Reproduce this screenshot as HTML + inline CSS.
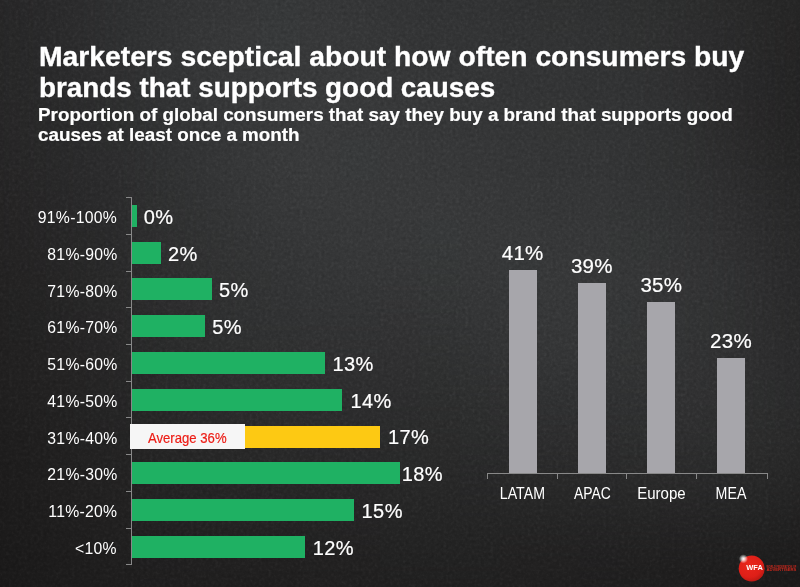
<!DOCTYPE html>
<html>
<head>
<meta charset="utf-8">
<title>Marketers sceptical about how often consumers buy brands that supports good causes</title>
<style>
html,body{margin:0;padding:0;}
body{width:800px;height:587px;overflow:hidden;position:relative;background:#2b2b2b;font-family:"Liberation Sans",sans-serif;color:#fff;}
#bg{position:absolute;left:0;top:0;width:800px;height:587px;}
.abs{position:absolute;white-space:nowrap;}
h1{position:absolute;left:38.5px;top:42.3px;margin:0;font-size:27px;line-height:31px;-webkit-text-stroke:0.35px #fff;font-weight:bold;color:#fff;white-space:nowrap;}
h2{position:absolute;left:37.5px;top:104.6px;margin:0;font-size:17.5px;line-height:20.5px;-webkit-text-stroke:0.2px #fff;transform:scaleX(1.076);transform-origin:0 0;font-weight:bold;color:#fff;white-space:nowrap;}
.cat{position:absolute;right:682.8px;font-size:16.5px;line-height:18px;letter-spacing:0.3px;margin-top:1.4px;transform:scaleX(0.955);transform-origin:100% 50%;color:#fff;white-space:nowrap;}
.hb{position:absolute;left:132px;height:22px;background:#1fb163;}
.hv{position:absolute;-webkit-text-stroke:0.2px #fff;font-size:20px;line-height:22px;margin-top:1px;color:#fff;white-space:nowrap;letter-spacing:0.4px;}
.vb{position:absolute;width:28px;margin-left:0.1px;background:#a7a6ab;}
.vv{position:absolute;-webkit-text-stroke:0.2px #fff;width:80px;text-align:center;font-size:20.5px;line-height:22px;color:#fff;letter-spacing:0.3px;margin-top:-0.6px;margin-left:0.2px;}
.vl{position:absolute;width:80px;text-align:center;font-size:17px;line-height:18px;margin-top:-0.3px;margin-left:0.3px;color:#fff;transform-origin:50% 50%;}
</style>
</head>
<body>
<svg id="bg" width="800" height="587" viewBox="0 0 800 587">
  <defs>
    <filter id="gblur" filterUnits="userSpaceOnUse" x="-60" y="-60" width="920" height="710" color-interpolation-filters="sRGB"><feGaussianBlur stdDeviation="17"/></filter>
    <filter id="noise" x="0" y="0" width="100%" height="100%" color-interpolation-filters="sRGB">
      <feTurbulence type="fractalNoise" baseFrequency="0.32" numOctaves="3" seed="7" result="t1"/>
      <feColorMatrix in="t1" type="matrix" values="0.12 0.12 0 0 0.38  0.12 0.12 0 0 0.38  0.12 0.12 0 0 0.38  0 0 0 0 1" result="n1"/>
      <feBlend in="n1" in2="SourceGraphic" mode="soft-light"/>
    </filter>
  </defs>
  <g filter="url(#noise)">
<rect x="-60" y="-60" width="920" height="710" fill="#2a2a2a"/>
<g filter="url(#gblur)">
<rect x="-60" y="-60" width="41" height="41" fill="rgb(39,38,39)"/>
<rect x="-20" y="-60" width="41" height="41" fill="rgb(39,38,39)"/>
<rect x="20" y="-60" width="41" height="41" fill="rgb(41,41,42)"/>
<rect x="60" y="-60" width="41" height="41" fill="rgb(44,44,45)"/>
<rect x="100" y="-60" width="41" height="41" fill="rgb(47,48,49)"/>
<rect x="140" y="-60" width="41" height="41" fill="rgb(50,51,52)"/>
<rect x="180" y="-60" width="41" height="41" fill="rgb(52,53,54)"/>
<rect x="220" y="-60" width="41" height="41" fill="rgb(54,55,56)"/>
<rect x="260" y="-60" width="41" height="41" fill="rgb(54,56,57)"/>
<rect x="300" y="-60" width="41" height="41" fill="rgb(54,55,56)"/>
<rect x="340" y="-60" width="41" height="41" fill="rgb(53,54,55)"/>
<rect x="380" y="-60" width="41" height="41" fill="rgb(51,52,53)"/>
<rect x="420" y="-60" width="41" height="41" fill="rgb(50,51,52)"/>
<rect x="460" y="-60" width="41" height="41" fill="rgb(50,51,52)"/>
<rect x="500" y="-60" width="41" height="41" fill="rgb(49,50,51)"/>
<rect x="540" y="-60" width="41" height="41" fill="rgb(49,50,50)"/>
<rect x="580" y="-60" width="41" height="41" fill="rgb(48,49,50)"/>
<rect x="620" y="-60" width="41" height="41" fill="rgb(47,48,48)"/>
<rect x="660" y="-60" width="41" height="41" fill="rgb(45,46,46)"/>
<rect x="700" y="-60" width="41" height="41" fill="rgb(43,43,43)"/>
<rect x="740" y="-60" width="41" height="41" fill="rgb(40,40,40)"/>
<rect x="780" y="-60" width="41" height="41" fill="rgb(37,37,37)"/>
<rect x="820" y="-60" width="41" height="41" fill="rgb(37,37,37)"/>
<rect x="-60" y="-20" width="41" height="41" fill="rgb(39,38,39)"/>
<rect x="-20" y="-20" width="41" height="41" fill="rgb(39,38,39)"/>
<rect x="20" y="-20" width="41" height="41" fill="rgb(41,41,42)"/>
<rect x="60" y="-20" width="41" height="41" fill="rgb(44,44,45)"/>
<rect x="100" y="-20" width="41" height="41" fill="rgb(47,48,49)"/>
<rect x="140" y="-20" width="41" height="41" fill="rgb(50,51,52)"/>
<rect x="180" y="-20" width="41" height="41" fill="rgb(52,53,54)"/>
<rect x="220" y="-20" width="41" height="41" fill="rgb(54,55,56)"/>
<rect x="260" y="-20" width="41" height="41" fill="rgb(54,56,57)"/>
<rect x="300" y="-20" width="41" height="41" fill="rgb(54,55,56)"/>
<rect x="340" y="-20" width="41" height="41" fill="rgb(53,54,55)"/>
<rect x="380" y="-20" width="41" height="41" fill="rgb(51,52,53)"/>
<rect x="420" y="-20" width="41" height="41" fill="rgb(50,51,52)"/>
<rect x="460" y="-20" width="41" height="41" fill="rgb(50,51,52)"/>
<rect x="500" y="-20" width="41" height="41" fill="rgb(49,50,51)"/>
<rect x="540" y="-20" width="41" height="41" fill="rgb(49,50,50)"/>
<rect x="580" y="-20" width="41" height="41" fill="rgb(48,49,50)"/>
<rect x="620" y="-20" width="41" height="41" fill="rgb(47,48,48)"/>
<rect x="660" y="-20" width="41" height="41" fill="rgb(45,46,46)"/>
<rect x="700" y="-20" width="41" height="41" fill="rgb(43,43,43)"/>
<rect x="740" y="-20" width="41" height="41" fill="rgb(40,40,40)"/>
<rect x="780" y="-20" width="41" height="41" fill="rgb(37,37,37)"/>
<rect x="820" y="-20" width="41" height="41" fill="rgb(37,37,37)"/>
<rect x="-60" y="20" width="41" height="41" fill="rgb(39,39,39)"/>
<rect x="-20" y="20" width="41" height="41" fill="rgb(39,39,39)"/>
<rect x="20" y="20" width="41" height="41" fill="rgb(41,41,42)"/>
<rect x="60" y="20" width="41" height="41" fill="rgb(44,44,45)"/>
<rect x="100" y="20" width="41" height="41" fill="rgb(47,48,49)"/>
<rect x="140" y="20" width="41" height="41" fill="rgb(50,51,52)"/>
<rect x="180" y="20" width="41" height="41" fill="rgb(53,54,55)"/>
<rect x="220" y="20" width="41" height="41" fill="rgb(55,56,57)"/>
<rect x="260" y="20" width="41" height="41" fill="rgb(55,57,58)"/>
<rect x="300" y="20" width="41" height="41" fill="rgb(55,56,57)"/>
<rect x="340" y="20" width="41" height="41" fill="rgb(54,55,56)"/>
<rect x="380" y="20" width="41" height="41" fill="rgb(52,53,54)"/>
<rect x="420" y="20" width="41" height="41" fill="rgb(51,52,53)"/>
<rect x="460" y="20" width="41" height="41" fill="rgb(51,52,53)"/>
<rect x="500" y="20" width="41" height="41" fill="rgb(50,51,52)"/>
<rect x="540" y="20" width="41" height="41" fill="rgb(50,51,52)"/>
<rect x="580" y="20" width="41" height="41" fill="rgb(49,50,51)"/>
<rect x="620" y="20" width="41" height="41" fill="rgb(48,49,49)"/>
<rect x="660" y="20" width="41" height="41" fill="rgb(46,46,47)"/>
<rect x="700" y="20" width="41" height="41" fill="rgb(43,43,44)"/>
<rect x="740" y="20" width="41" height="41" fill="rgb(40,40,40)"/>
<rect x="780" y="20" width="41" height="41" fill="rgb(37,36,36)"/>
<rect x="820" y="20" width="41" height="41" fill="rgb(37,36,36)"/>
<rect x="-60" y="60" width="41" height="41" fill="rgb(39,39,39)"/>
<rect x="-20" y="60" width="41" height="41" fill="rgb(39,39,39)"/>
<rect x="20" y="60" width="41" height="41" fill="rgb(41,41,42)"/>
<rect x="60" y="60" width="41" height="41" fill="rgb(44,44,45)"/>
<rect x="100" y="60" width="41" height="41" fill="rgb(47,47,48)"/>
<rect x="140" y="60" width="41" height="41" fill="rgb(50,51,52)"/>
<rect x="180" y="60" width="41" height="41" fill="rgb(53,54,55)"/>
<rect x="220" y="60" width="41" height="41" fill="rgb(55,56,57)"/>
<rect x="260" y="60" width="41" height="41" fill="rgb(56,57,58)"/>
<rect x="300" y="60" width="41" height="41" fill="rgb(56,57,58)"/>
<rect x="340" y="60" width="41" height="41" fill="rgb(55,56,57)"/>
<rect x="380" y="60" width="41" height="41" fill="rgb(54,55,56)"/>
<rect x="420" y="60" width="41" height="41" fill="rgb(53,54,55)"/>
<rect x="460" y="60" width="41" height="41" fill="rgb(52,53,54)"/>
<rect x="500" y="60" width="41" height="41" fill="rgb(51,52,53)"/>
<rect x="540" y="60" width="41" height="41" fill="rgb(51,52,53)"/>
<rect x="580" y="60" width="41" height="41" fill="rgb(50,51,52)"/>
<rect x="620" y="60" width="41" height="41" fill="rgb(49,50,51)"/>
<rect x="660" y="60" width="41" height="41" fill="rgb(47,47,48)"/>
<rect x="700" y="60" width="41" height="41" fill="rgb(43,43,44)"/>
<rect x="740" y="60" width="41" height="41" fill="rgb(39,39,40)"/>
<rect x="780" y="60" width="41" height="41" fill="rgb(36,36,36)"/>
<rect x="820" y="60" width="41" height="41" fill="rgb(36,36,36)"/>
<rect x="-60" y="100" width="41" height="41" fill="rgb(39,38,39)"/>
<rect x="-20" y="100" width="41" height="41" fill="rgb(39,38,39)"/>
<rect x="20" y="100" width="41" height="41" fill="rgb(41,41,41)"/>
<rect x="60" y="100" width="41" height="41" fill="rgb(43,43,44)"/>
<rect x="100" y="100" width="41" height="41" fill="rgb(46,47,47)"/>
<rect x="140" y="100" width="41" height="41" fill="rgb(49,50,51)"/>
<rect x="180" y="100" width="41" height="41" fill="rgb(52,53,54)"/>
<rect x="220" y="100" width="41" height="41" fill="rgb(55,56,57)"/>
<rect x="260" y="100" width="41" height="41" fill="rgb(56,57,58)"/>
<rect x="300" y="100" width="41" height="41" fill="rgb(57,58,59)"/>
<rect x="340" y="100" width="41" height="41" fill="rgb(56,57,58)"/>
<rect x="380" y="100" width="41" height="41" fill="rgb(55,56,57)"/>
<rect x="420" y="100" width="41" height="41" fill="rgb(54,55,56)"/>
<rect x="460" y="100" width="41" height="41" fill="rgb(53,54,55)"/>
<rect x="500" y="100" width="41" height="41" fill="rgb(52,53,54)"/>
<rect x="540" y="100" width="41" height="41" fill="rgb(52,53,53)"/>
<rect x="580" y="100" width="41" height="41" fill="rgb(51,52,53)"/>
<rect x="620" y="100" width="41" height="41" fill="rgb(50,51,52)"/>
<rect x="660" y="100" width="41" height="41" fill="rgb(47,48,49)"/>
<rect x="700" y="100" width="41" height="41" fill="rgb(44,44,44)"/>
<rect x="740" y="100" width="41" height="41" fill="rgb(40,39,40)"/>
<rect x="780" y="100" width="41" height="41" fill="rgb(36,36,36)"/>
<rect x="820" y="100" width="41" height="41" fill="rgb(36,36,36)"/>
<rect x="-60" y="140" width="41" height="41" fill="rgb(38,37,38)"/>
<rect x="-20" y="140" width="41" height="41" fill="rgb(38,37,38)"/>
<rect x="20" y="140" width="41" height="41" fill="rgb(40,40,40)"/>
<rect x="60" y="140" width="41" height="41" fill="rgb(42,42,43)"/>
<rect x="100" y="140" width="41" height="41" fill="rgb(45,45,46)"/>
<rect x="140" y="140" width="41" height="41" fill="rgb(48,49,50)"/>
<rect x="180" y="140" width="41" height="41" fill="rgb(51,52,53)"/>
<rect x="220" y="140" width="41" height="41" fill="rgb(54,55,56)"/>
<rect x="260" y="140" width="41" height="41" fill="rgb(56,57,58)"/>
<rect x="300" y="140" width="41" height="41" fill="rgb(57,58,59)"/>
<rect x="340" y="140" width="41" height="41" fill="rgb(56,58,59)"/>
<rect x="380" y="140" width="41" height="41" fill="rgb(56,57,58)"/>
<rect x="420" y="140" width="41" height="41" fill="rgb(55,56,57)"/>
<rect x="460" y="140" width="41" height="41" fill="rgb(54,55,56)"/>
<rect x="500" y="140" width="41" height="41" fill="rgb(53,54,55)"/>
<rect x="540" y="140" width="41" height="41" fill="rgb(52,53,54)"/>
<rect x="580" y="140" width="41" height="41" fill="rgb(52,53,54)"/>
<rect x="620" y="140" width="41" height="41" fill="rgb(50,51,52)"/>
<rect x="660" y="140" width="41" height="41" fill="rgb(48,49,49)"/>
<rect x="700" y="140" width="41" height="41" fill="rgb(45,45,46)"/>
<rect x="740" y="140" width="41" height="41" fill="rgb(41,41,41)"/>
<rect x="780" y="140" width="41" height="41" fill="rgb(37,37,37)"/>
<rect x="820" y="140" width="41" height="41" fill="rgb(37,37,37)"/>
<rect x="-60" y="180" width="41" height="41" fill="rgb(37,36,36)"/>
<rect x="-20" y="180" width="41" height="41" fill="rgb(37,36,36)"/>
<rect x="20" y="180" width="41" height="41" fill="rgb(39,38,39)"/>
<rect x="60" y="180" width="41" height="41" fill="rgb(41,41,42)"/>
<rect x="100" y="180" width="41" height="41" fill="rgb(44,44,45)"/>
<rect x="140" y="180" width="41" height="41" fill="rgb(47,48,48)"/>
<rect x="180" y="180" width="41" height="41" fill="rgb(50,51,52)"/>
<rect x="220" y="180" width="41" height="41" fill="rgb(53,54,55)"/>
<rect x="260" y="180" width="41" height="41" fill="rgb(55,56,57)"/>
<rect x="300" y="180" width="41" height="41" fill="rgb(56,57,58)"/>
<rect x="340" y="180" width="41" height="41" fill="rgb(56,57,58)"/>
<rect x="380" y="180" width="41" height="41" fill="rgb(56,57,58)"/>
<rect x="420" y="180" width="41" height="41" fill="rgb(56,57,58)"/>
<rect x="460" y="180" width="41" height="41" fill="rgb(55,56,57)"/>
<rect x="500" y="180" width="41" height="41" fill="rgb(54,55,56)"/>
<rect x="540" y="180" width="41" height="41" fill="rgb(53,54,55)"/>
<rect x="580" y="180" width="41" height="41" fill="rgb(53,54,55)"/>
<rect x="620" y="180" width="41" height="41" fill="rgb(51,52,53)"/>
<rect x="660" y="180" width="41" height="41" fill="rgb(49,50,51)"/>
<rect x="700" y="180" width="41" height="41" fill="rgb(47,47,48)"/>
<rect x="740" y="180" width="41" height="41" fill="rgb(43,43,44)"/>
<rect x="780" y="180" width="41" height="41" fill="rgb(39,39,39)"/>
<rect x="820" y="180" width="41" height="41" fill="rgb(39,39,39)"/>
<rect x="-60" y="220" width="41" height="41" fill="rgb(36,35,35)"/>
<rect x="-20" y="220" width="41" height="41" fill="rgb(36,35,35)"/>
<rect x="20" y="220" width="41" height="41" fill="rgb(38,37,38)"/>
<rect x="60" y="220" width="41" height="41" fill="rgb(40,40,40)"/>
<rect x="100" y="220" width="41" height="41" fill="rgb(43,43,44)"/>
<rect x="140" y="220" width="41" height="41" fill="rgb(46,46,47)"/>
<rect x="180" y="220" width="41" height="41" fill="rgb(49,50,50)"/>
<rect x="220" y="220" width="41" height="41" fill="rgb(51,52,53)"/>
<rect x="260" y="220" width="41" height="41" fill="rgb(53,54,55)"/>
<rect x="300" y="220" width="41" height="41" fill="rgb(54,55,56)"/>
<rect x="340" y="220" width="41" height="41" fill="rgb(55,56,57)"/>
<rect x="380" y="220" width="41" height="41" fill="rgb(55,56,57)"/>
<rect x="420" y="220" width="41" height="41" fill="rgb(55,57,58)"/>
<rect x="460" y="220" width="41" height="41" fill="rgb(55,56,57)"/>
<rect x="500" y="220" width="41" height="41" fill="rgb(55,56,57)"/>
<rect x="540" y="220" width="41" height="41" fill="rgb(54,55,56)"/>
<rect x="580" y="220" width="41" height="41" fill="rgb(54,55,56)"/>
<rect x="620" y="220" width="41" height="41" fill="rgb(52,54,54)"/>
<rect x="660" y="220" width="41" height="41" fill="rgb(51,52,53)"/>
<rect x="700" y="220" width="41" height="41" fill="rgb(49,49,50)"/>
<rect x="740" y="220" width="41" height="41" fill="rgb(45,45,46)"/>
<rect x="780" y="220" width="41" height="41" fill="rgb(41,41,41)"/>
<rect x="820" y="220" width="41" height="41" fill="rgb(41,41,41)"/>
<rect x="-60" y="260" width="41" height="41" fill="rgb(35,34,34)"/>
<rect x="-20" y="260" width="41" height="41" fill="rgb(35,34,34)"/>
<rect x="20" y="260" width="41" height="41" fill="rgb(37,36,36)"/>
<rect x="60" y="260" width="41" height="41" fill="rgb(39,39,39)"/>
<rect x="100" y="260" width="41" height="41" fill="rgb(42,42,42)"/>
<rect x="140" y="260" width="41" height="41" fill="rgb(45,45,46)"/>
<rect x="180" y="260" width="41" height="41" fill="rgb(48,48,49)"/>
<rect x="220" y="260" width="41" height="41" fill="rgb(50,51,51)"/>
<rect x="260" y="260" width="41" height="41" fill="rgb(51,52,53)"/>
<rect x="300" y="260" width="41" height="41" fill="rgb(52,53,54)"/>
<rect x="340" y="260" width="41" height="41" fill="rgb(53,54,55)"/>
<rect x="380" y="260" width="41" height="41" fill="rgb(53,54,55)"/>
<rect x="420" y="260" width="41" height="41" fill="rgb(53,55,55)"/>
<rect x="460" y="260" width="41" height="41" fill="rgb(54,55,56)"/>
<rect x="500" y="260" width="41" height="41" fill="rgb(54,56,57)"/>
<rect x="540" y="260" width="41" height="41" fill="rgb(55,56,57)"/>
<rect x="580" y="260" width="41" height="41" fill="rgb(54,55,56)"/>
<rect x="620" y="260" width="41" height="41" fill="rgb(53,54,55)"/>
<rect x="660" y="260" width="41" height="41" fill="rgb(52,52,53)"/>
<rect x="700" y="260" width="41" height="41" fill="rgb(49,50,51)"/>
<rect x="740" y="260" width="41" height="41" fill="rgb(46,46,47)"/>
<rect x="780" y="260" width="41" height="41" fill="rgb(41,41,42)"/>
<rect x="820" y="260" width="41" height="41" fill="rgb(41,41,42)"/>
<rect x="-60" y="300" width="41" height="41" fill="rgb(34,33,33)"/>
<rect x="-20" y="300" width="41" height="41" fill="rgb(34,33,33)"/>
<rect x="20" y="300" width="41" height="41" fill="rgb(35,35,35)"/>
<rect x="60" y="300" width="41" height="41" fill="rgb(38,37,38)"/>
<rect x="100" y="300" width="41" height="41" fill="rgb(41,40,41)"/>
<rect x="140" y="300" width="41" height="41" fill="rgb(43,44,44)"/>
<rect x="180" y="300" width="41" height="41" fill="rgb(46,47,47)"/>
<rect x="220" y="300" width="41" height="41" fill="rgb(48,49,50)"/>
<rect x="260" y="300" width="41" height="41" fill="rgb(49,50,51)"/>
<rect x="300" y="300" width="41" height="41" fill="rgb(50,51,52)"/>
<rect x="340" y="300" width="41" height="41" fill="rgb(50,51,52)"/>
<rect x="380" y="300" width="41" height="41" fill="rgb(51,51,52)"/>
<rect x="420" y="300" width="41" height="41" fill="rgb(51,52,53)"/>
<rect x="460" y="300" width="41" height="41" fill="rgb(52,53,54)"/>
<rect x="500" y="300" width="41" height="41" fill="rgb(53,54,55)"/>
<rect x="540" y="300" width="41" height="41" fill="rgb(54,55,56)"/>
<rect x="580" y="300" width="41" height="41" fill="rgb(53,55,56)"/>
<rect x="620" y="300" width="41" height="41" fill="rgb(52,53,54)"/>
<rect x="660" y="300" width="41" height="41" fill="rgb(51,52,53)"/>
<rect x="700" y="300" width="41" height="41" fill="rgb(49,50,50)"/>
<rect x="740" y="300" width="41" height="41" fill="rgb(46,46,47)"/>
<rect x="780" y="300" width="41" height="41" fill="rgb(42,42,42)"/>
<rect x="820" y="300" width="41" height="41" fill="rgb(42,42,42)"/>
<rect x="-60" y="340" width="41" height="41" fill="rgb(33,32,32)"/>
<rect x="-20" y="340" width="41" height="41" fill="rgb(33,32,32)"/>
<rect x="20" y="340" width="41" height="41" fill="rgb(35,34,34)"/>
<rect x="60" y="340" width="41" height="41" fill="rgb(37,36,36)"/>
<rect x="100" y="340" width="41" height="41" fill="rgb(39,39,39)"/>
<rect x="140" y="340" width="41" height="41" fill="rgb(42,42,42)"/>
<rect x="180" y="340" width="41" height="41" fill="rgb(44,45,45)"/>
<rect x="220" y="340" width="41" height="41" fill="rgb(46,47,47)"/>
<rect x="260" y="340" width="41" height="41" fill="rgb(47,48,48)"/>
<rect x="300" y="340" width="41" height="41" fill="rgb(48,48,49)"/>
<rect x="340" y="340" width="41" height="41" fill="rgb(48,48,49)"/>
<rect x="380" y="340" width="41" height="41" fill="rgb(48,48,49)"/>
<rect x="420" y="340" width="41" height="41" fill="rgb(48,49,49)"/>
<rect x="460" y="340" width="41" height="41" fill="rgb(49,50,51)"/>
<rect x="500" y="340" width="41" height="41" fill="rgb(51,52,53)"/>
<rect x="540" y="340" width="41" height="41" fill="rgb(52,53,54)"/>
<rect x="580" y="340" width="41" height="41" fill="rgb(51,52,53)"/>
<rect x="620" y="340" width="41" height="41" fill="rgb(51,52,52)"/>
<rect x="660" y="340" width="41" height="41" fill="rgb(50,51,52)"/>
<rect x="700" y="340" width="41" height="41" fill="rgb(49,49,50)"/>
<rect x="740" y="340" width="41" height="41" fill="rgb(46,46,47)"/>
<rect x="780" y="340" width="41" height="41" fill="rgb(42,42,43)"/>
<rect x="820" y="340" width="41" height="41" fill="rgb(42,42,43)"/>
<rect x="-60" y="380" width="41" height="41" fill="rgb(32,31,31)"/>
<rect x="-20" y="380" width="41" height="41" fill="rgb(32,31,31)"/>
<rect x="20" y="380" width="41" height="41" fill="rgb(34,33,33)"/>
<rect x="60" y="380" width="41" height="41" fill="rgb(36,35,35)"/>
<rect x="100" y="380" width="41" height="41" fill="rgb(38,37,38)"/>
<rect x="140" y="380" width="41" height="41" fill="rgb(40,40,40)"/>
<rect x="180" y="380" width="41" height="41" fill="rgb(42,42,43)"/>
<rect x="220" y="380" width="41" height="41" fill="rgb(44,44,45)"/>
<rect x="260" y="380" width="41" height="41" fill="rgb(45,45,45)"/>
<rect x="300" y="380" width="41" height="41" fill="rgb(45,45,46)"/>
<rect x="340" y="380" width="41" height="41" fill="rgb(45,45,46)"/>
<rect x="380" y="380" width="41" height="41" fill="rgb(45,45,46)"/>
<rect x="420" y="380" width="41" height="41" fill="rgb(45,46,46)"/>
<rect x="460" y="380" width="41" height="41" fill="rgb(46,47,47)"/>
<rect x="500" y="380" width="41" height="41" fill="rgb(48,48,49)"/>
<rect x="540" y="380" width="41" height="41" fill="rgb(48,49,50)"/>
<rect x="580" y="380" width="41" height="41" fill="rgb(48,49,50)"/>
<rect x="620" y="380" width="41" height="41" fill="rgb(48,49,50)"/>
<rect x="660" y="380" width="41" height="41" fill="rgb(49,49,50)"/>
<rect x="700" y="380" width="41" height="41" fill="rgb(48,48,49)"/>
<rect x="740" y="380" width="41" height="41" fill="rgb(45,46,46)"/>
<rect x="780" y="380" width="41" height="41" fill="rgb(42,42,43)"/>
<rect x="820" y="380" width="41" height="41" fill="rgb(42,42,43)"/>
<rect x="-60" y="420" width="41" height="41" fill="rgb(30,29,29)"/>
<rect x="-20" y="420" width="41" height="41" fill="rgb(30,29,29)"/>
<rect x="20" y="420" width="41" height="41" fill="rgb(32,31,31)"/>
<rect x="60" y="420" width="41" height="41" fill="rgb(34,34,34)"/>
<rect x="100" y="420" width="41" height="41" fill="rgb(36,36,36)"/>
<rect x="140" y="420" width="41" height="41" fill="rgb(38,38,38)"/>
<rect x="180" y="420" width="41" height="41" fill="rgb(40,40,40)"/>
<rect x="220" y="420" width="41" height="41" fill="rgb(41,41,41)"/>
<rect x="260" y="420" width="41" height="41" fill="rgb(42,42,42)"/>
<rect x="300" y="420" width="41" height="41" fill="rgb(42,42,43)"/>
<rect x="340" y="420" width="41" height="41" fill="rgb(42,42,43)"/>
<rect x="380" y="420" width="41" height="41" fill="rgb(42,43,43)"/>
<rect x="420" y="420" width="41" height="41" fill="rgb(43,43,43)"/>
<rect x="460" y="420" width="41" height="41" fill="rgb(43,44,44)"/>
<rect x="500" y="420" width="41" height="41" fill="rgb(44,44,45)"/>
<rect x="540" y="420" width="41" height="41" fill="rgb(45,45,46)"/>
<rect x="580" y="420" width="41" height="41" fill="rgb(45,45,46)"/>
<rect x="620" y="420" width="41" height="41" fill="rgb(45,46,46)"/>
<rect x="660" y="420" width="41" height="41" fill="rgb(46,46,47)"/>
<rect x="700" y="420" width="41" height="41" fill="rgb(45,46,46)"/>
<rect x="740" y="420" width="41" height="41" fill="rgb(44,44,44)"/>
<rect x="780" y="420" width="41" height="41" fill="rgb(41,41,41)"/>
<rect x="820" y="420" width="41" height="41" fill="rgb(41,41,41)"/>
<rect x="-60" y="460" width="41" height="41" fill="rgb(29,28,28)"/>
<rect x="-20" y="460" width="41" height="41" fill="rgb(29,28,28)"/>
<rect x="20" y="460" width="41" height="41" fill="rgb(31,30,30)"/>
<rect x="60" y="460" width="41" height="41" fill="rgb(33,32,32)"/>
<rect x="100" y="460" width="41" height="41" fill="rgb(35,34,34)"/>
<rect x="140" y="460" width="41" height="41" fill="rgb(36,36,36)"/>
<rect x="180" y="460" width="41" height="41" fill="rgb(37,37,37)"/>
<rect x="220" y="460" width="41" height="41" fill="rgb(38,38,38)"/>
<rect x="260" y="460" width="41" height="41" fill="rgb(39,39,39)"/>
<rect x="300" y="460" width="41" height="41" fill="rgb(39,39,39)"/>
<rect x="340" y="460" width="41" height="41" fill="rgb(40,39,40)"/>
<rect x="380" y="460" width="41" height="41" fill="rgb(40,40,40)"/>
<rect x="420" y="460" width="41" height="41" fill="rgb(40,40,40)"/>
<rect x="460" y="460" width="41" height="41" fill="rgb(40,40,41)"/>
<rect x="500" y="460" width="41" height="41" fill="rgb(41,41,41)"/>
<rect x="540" y="460" width="41" height="41" fill="rgb(41,41,41)"/>
<rect x="580" y="460" width="41" height="41" fill="rgb(41,41,42)"/>
<rect x="620" y="460" width="41" height="41" fill="rgb(42,42,42)"/>
<rect x="660" y="460" width="41" height="41" fill="rgb(42,42,42)"/>
<rect x="700" y="460" width="41" height="41" fill="rgb(41,41,42)"/>
<rect x="740" y="460" width="41" height="41" fill="rgb(40,40,40)"/>
<rect x="780" y="460" width="41" height="41" fill="rgb(38,38,38)"/>
<rect x="820" y="460" width="41" height="41" fill="rgb(38,38,38)"/>
<rect x="-60" y="500" width="41" height="41" fill="rgb(28,27,27)"/>
<rect x="-20" y="500" width="41" height="41" fill="rgb(28,27,27)"/>
<rect x="20" y="500" width="41" height="41" fill="rgb(30,29,29)"/>
<rect x="60" y="500" width="41" height="41" fill="rgb(32,31,31)"/>
<rect x="100" y="500" width="41" height="41" fill="rgb(33,32,32)"/>
<rect x="140" y="500" width="41" height="41" fill="rgb(34,34,34)"/>
<rect x="180" y="500" width="41" height="41" fill="rgb(35,34,35)"/>
<rect x="220" y="500" width="41" height="41" fill="rgb(36,35,35)"/>
<rect x="260" y="500" width="41" height="41" fill="rgb(36,35,36)"/>
<rect x="300" y="500" width="41" height="41" fill="rgb(36,36,36)"/>
<rect x="340" y="500" width="41" height="41" fill="rgb(37,36,37)"/>
<rect x="380" y="500" width="41" height="41" fill="rgb(37,37,37)"/>
<rect x="420" y="500" width="41" height="41" fill="rgb(37,37,37)"/>
<rect x="460" y="500" width="41" height="41" fill="rgb(37,37,37)"/>
<rect x="500" y="500" width="41" height="41" fill="rgb(37,37,37)"/>
<rect x="540" y="500" width="41" height="41" fill="rgb(37,37,37)"/>
<rect x="580" y="500" width="41" height="41" fill="rgb(37,37,37)"/>
<rect x="620" y="500" width="41" height="41" fill="rgb(37,37,37)"/>
<rect x="660" y="500" width="41" height="41" fill="rgb(37,36,37)"/>
<rect x="700" y="500" width="41" height="41" fill="rgb(36,36,36)"/>
<rect x="740" y="500" width="41" height="41" fill="rgb(35,35,35)"/>
<rect x="780" y="500" width="41" height="41" fill="rgb(34,33,33)"/>
<rect x="820" y="500" width="41" height="41" fill="rgb(34,33,33)"/>
<rect x="-60" y="540" width="41" height="41" fill="rgb(27,26,26)"/>
<rect x="-20" y="540" width="41" height="41" fill="rgb(27,26,26)"/>
<rect x="20" y="540" width="41" height="41" fill="rgb(28,27,27)"/>
<rect x="60" y="540" width="41" height="41" fill="rgb(30,29,29)"/>
<rect x="100" y="540" width="41" height="41" fill="rgb(32,31,31)"/>
<rect x="140" y="540" width="41" height="41" fill="rgb(32,31,32)"/>
<rect x="180" y="540" width="41" height="41" fill="rgb(33,32,32)"/>
<rect x="220" y="540" width="41" height="41" fill="rgb(33,32,32)"/>
<rect x="260" y="540" width="41" height="41" fill="rgb(33,32,32)"/>
<rect x="300" y="540" width="41" height="41" fill="rgb(34,33,33)"/>
<rect x="340" y="540" width="41" height="41" fill="rgb(34,33,33)"/>
<rect x="380" y="540" width="41" height="41" fill="rgb(34,34,34)"/>
<rect x="420" y="540" width="41" height="41" fill="rgb(34,34,34)"/>
<rect x="460" y="540" width="41" height="41" fill="rgb(34,34,34)"/>
<rect x="500" y="540" width="41" height="41" fill="rgb(34,33,33)"/>
<rect x="540" y="540" width="41" height="41" fill="rgb(34,33,33)"/>
<rect x="580" y="540" width="41" height="41" fill="rgb(33,32,33)"/>
<rect x="620" y="540" width="41" height="41" fill="rgb(33,32,32)"/>
<rect x="660" y="540" width="41" height="41" fill="rgb(32,31,31)"/>
<rect x="700" y="540" width="41" height="41" fill="rgb(31,30,30)"/>
<rect x="740" y="540" width="41" height="41" fill="rgb(30,29,29)"/>
<rect x="780" y="540" width="41" height="41" fill="rgb(28,27,27)"/>
<rect x="820" y="540" width="41" height="41" fill="rgb(28,27,27)"/>
<rect x="-60" y="580" width="41" height="41" fill="rgb(26,25,25)"/>
<rect x="-20" y="580" width="41" height="41" fill="rgb(26,25,25)"/>
<rect x="20" y="580" width="41" height="41" fill="rgb(28,27,27)"/>
<rect x="60" y="580" width="41" height="41" fill="rgb(29,28,28)"/>
<rect x="100" y="580" width="41" height="41" fill="rgb(30,29,29)"/>
<rect x="140" y="580" width="41" height="41" fill="rgb(31,30,30)"/>
<rect x="180" y="580" width="41" height="41" fill="rgb(31,30,30)"/>
<rect x="220" y="580" width="41" height="41" fill="rgb(31,30,30)"/>
<rect x="260" y="580" width="41" height="41" fill="rgb(31,30,30)"/>
<rect x="300" y="580" width="41" height="41" fill="rgb(32,31,31)"/>
<rect x="340" y="580" width="41" height="41" fill="rgb(32,31,31)"/>
<rect x="380" y="580" width="41" height="41" fill="rgb(32,31,31)"/>
<rect x="420" y="580" width="41" height="41" fill="rgb(32,31,31)"/>
<rect x="460" y="580" width="41" height="41" fill="rgb(32,31,31)"/>
<rect x="500" y="580" width="41" height="41" fill="rgb(32,31,31)"/>
<rect x="540" y="580" width="41" height="41" fill="rgb(31,30,30)"/>
<rect x="580" y="580" width="41" height="41" fill="rgb(31,30,30)"/>
<rect x="620" y="580" width="41" height="41" fill="rgb(30,29,29)"/>
<rect x="660" y="580" width="41" height="41" fill="rgb(29,28,28)"/>
<rect x="700" y="580" width="41" height="41" fill="rgb(28,27,27)"/>
<rect x="740" y="580" width="41" height="41" fill="rgb(26,25,25)"/>
<rect x="780" y="580" width="41" height="41" fill="rgb(25,24,24)"/>
<rect x="820" y="580" width="41" height="41" fill="rgb(25,24,24)"/>
</g>
</g>
</svg>

<h1><span style="display:block;transform:scaleX(1.047);transform-origin:0 0">Marketers sceptical about how often consumers buy</span><span style="display:block;transform:scaleX(1.031);transform-origin:0 0">brands that supports good causes</span></h1>
<h2>Proportion of global consumers that say they buy a brand that supports good<br>causes at least once a month</h2>

<div id="wrap" style="position:absolute;left:0;top:0;width:800px;height:587px;will-change:transform">
<svg id="logo" style="position:absolute;left:730px;top:545px" width="70" height="42" viewBox="730 545 70 42">
  <defs>
    <radialGradient id="ball" cx="0.42" cy="0.38" r="0.65">
      <stop offset="0" stop-color="#ea261c"/>
      <stop offset="0.7" stop-color="#de1f18"/>
      <stop offset="1" stop-color="#b81812"/>
    </radialGradient>
    <radialGradient id="flare" cx="0.5" cy="0.5" r="0.5">
      <stop offset="0" stop-color="#ffffff" stop-opacity="1"/>
      <stop offset="0.35" stop-color="#ffffff" stop-opacity="0.75"/>
      <stop offset="1" stop-color="#ffffff" stop-opacity="0"/>
    </radialGradient>
  </defs>
  <circle cx="751.7" cy="568.6" r="13" fill="url(#ball)"/>
  <circle cx="743.4" cy="558.8" r="4.6" fill="url(#flare)"/>
  <text x="746.3" y="570.3" font-family="Liberation Sans, sans-serif" font-weight="bold" font-size="7" fill="#ffffff" textLength="16.6" lengthAdjust="spacingAndGlyphs">WFA</text>
  <text x="766.4" y="568.3" font-family="Liberation Sans, sans-serif" font-weight="bold" font-size="3" fill="#c9281d" textLength="30" lengthAdjust="spacingAndGlyphs">WORLD FEDERATION OF</text>
  <text x="766.4" y="571.2" font-family="Liberation Sans, sans-serif" font-weight="bold" font-size="3" fill="#c9281d" textLength="30" lengthAdjust="spacingAndGlyphs">ADVERTISERS</text>
</svg>
<div id="left">
<div class="abs" style="left:131.2px;top:197.0px;width:1px;height:368.3px;background:#888888"></div>
<div class="abs" style="left:126.2px;top:197.0px;width:6px;height:1px;background:#888888"></div>
<div class="abs" style="left:126.2px;top:233.7px;width:6px;height:1px;background:#888888"></div>
<div class="abs" style="left:126.2px;top:270.5px;width:6px;height:1px;background:#888888"></div>
<div class="abs" style="left:126.2px;top:307.2px;width:6px;height:1px;background:#888888"></div>
<div class="abs" style="left:126.2px;top:343.9px;width:6px;height:1px;background:#888888"></div>
<div class="abs" style="left:126.2px;top:380.6px;width:6px;height:1px;background:#888888"></div>
<div class="abs" style="left:126.2px;top:417.4px;width:6px;height:1px;background:#888888"></div>
<div class="abs" style="left:126.2px;top:454.1px;width:6px;height:1px;background:#888888"></div>
<div class="abs" style="left:126.2px;top:490.8px;width:6px;height:1px;background:#888888"></div>
<div class="abs" style="left:126.2px;top:527.6px;width:6px;height:1px;background:#888888"></div>
<div class="abs" style="left:126.2px;top:564.3px;width:6px;height:1px;background:#888888"></div>
<div class="cat" style="top:206.9px">91%-100%</div>
<div class="hb" style="top:204.9px;width:4.8px;background:#1fb163"></div>
<div class="hv" style="left:143.7px;top:204.9px">0%</div>
<div class="cat" style="top:243.6px">81%-90%</div>
<div class="hb" style="top:241.6px;width:28.8px;background:#1fb163"></div>
<div class="hv" style="left:168.0px;top:241.6px">2%</div>
<div class="cat" style="top:280.4px">71%-80%</div>
<div class="hb" style="top:278.4px;width:79.6px;background:#1fb163"></div>
<div class="hv" style="left:219.0px;top:278.4px">5%</div>
<div class="cat" style="top:317.1px">61%-70%</div>
<div class="hb" style="top:315.1px;width:73.0px;background:#1fb163"></div>
<div class="hv" style="left:212.2px;top:315.1px">5%</div>
<div class="cat" style="top:353.8px">51%-60%</div>
<div class="hb" style="top:351.8px;width:192.6px;background:#1fb163"></div>
<div class="hv" style="left:332.5px;top:351.8px">13%</div>
<div class="cat" style="top:390.5px">41%-50%</div>
<div class="hb" style="top:388.5px;width:210.2px;background:#1fb163"></div>
<div class="hv" style="left:350.4px;top:388.5px">14%</div>
<div class="cat" style="top:427.3px">31%-40%</div>
<div class="hb" style="top:425.5px;width:248.3px;background:#fdc913"></div>
<div class="hv" style="left:388.0px;top:425.3px">17%</div>
<div class="cat" style="top:464.0px">21%-30%</div>
<div class="hb" style="top:462.0px;width:267.7px;background:#1fb163"></div>
<div class="hv" style="left:401.7px;top:462.0px">18%</div>
<div class="cat" style="top:500.7px">11%-20%</div>
<div class="hb" style="top:498.7px;width:221.6px;background:#1fb163"></div>
<div class="hv" style="left:361.6px;top:498.7px">15%</div>
<div class="cat" style="top:537.5px">&lt;10%</div>
<div class="hb" style="top:535.5px;width:172.8px;background:#1fb163"></div>
<div class="hv" style="left:312.8px;top:535.5px">12%</div>
<div class="abs" style="left:130px;top:424.0px;width:115px;height:24.5px;background:#f6f6f6"><span style="position:absolute;left:17.5px;top:1.6px;font-size:14.5px;line-height:24.5px;color:#ec1c15;-webkit-text-stroke:0.2px #ec1c15;transform:scaleX(0.905);transform-origin:0 50%;white-space:nowrap">Average 36%</span></div>
</div>
<div id="right">
<div class="abs" style="left:487px;top:472.5px;width:280.5px;height:1px;background:#888888"></div>
<div class="abs" style="left:487px;top:472.5px;width:1px;height:6.5px;background:#888888"></div>
<div class="abs" style="left:556.5px;top:472.5px;width:1px;height:6.5px;background:#888888"></div>
<div class="abs" style="left:626px;top:472.5px;width:1px;height:6.5px;background:#888888"></div>
<div class="abs" style="left:696px;top:472.5px;width:1px;height:6.5px;background:#888888"></div>
<div class="abs" style="left:766.5px;top:472.5px;width:1px;height:6.5px;background:#888888"></div>
<div class="vb" style="left:508.5px;top:270px;height:203.0px"></div>
<div class="vv" style="left:482.5px;top:242.5px">41%</div>
<div class="vl" style="left:482.5px;top:485px;transform:translateX(-0.6px) scaleX(0.835)">LATAM</div>
<div class="vb" style="left:577.7px;top:283.3px;height:189.7px"></div>
<div class="vv" style="left:551.7px;top:255.8px">39%</div>
<div class="vl" style="left:551.7px;top:485px;transform:translateX(0.4px) scaleX(0.82)">APAC</div>
<div class="vb" style="left:646.8px;top:302px;height:171.0px"></div>
<div class="vv" style="left:621.2px;top:274.5px">35%</div>
<div class="vl" style="left:621.2px;top:485px;transform:translateX(0.4px) scaleX(0.885)">Europe</div>
<div class="vb" style="left:716.8px;top:358.4px;height:114.6px"></div>
<div class="vv" style="left:690.8px;top:330.9px">23%</div>
<div class="vl" style="left:690.8px;top:485px;transform:scaleX(0.835)">MEA</div>
</div>
</div>
</body>
</html>
